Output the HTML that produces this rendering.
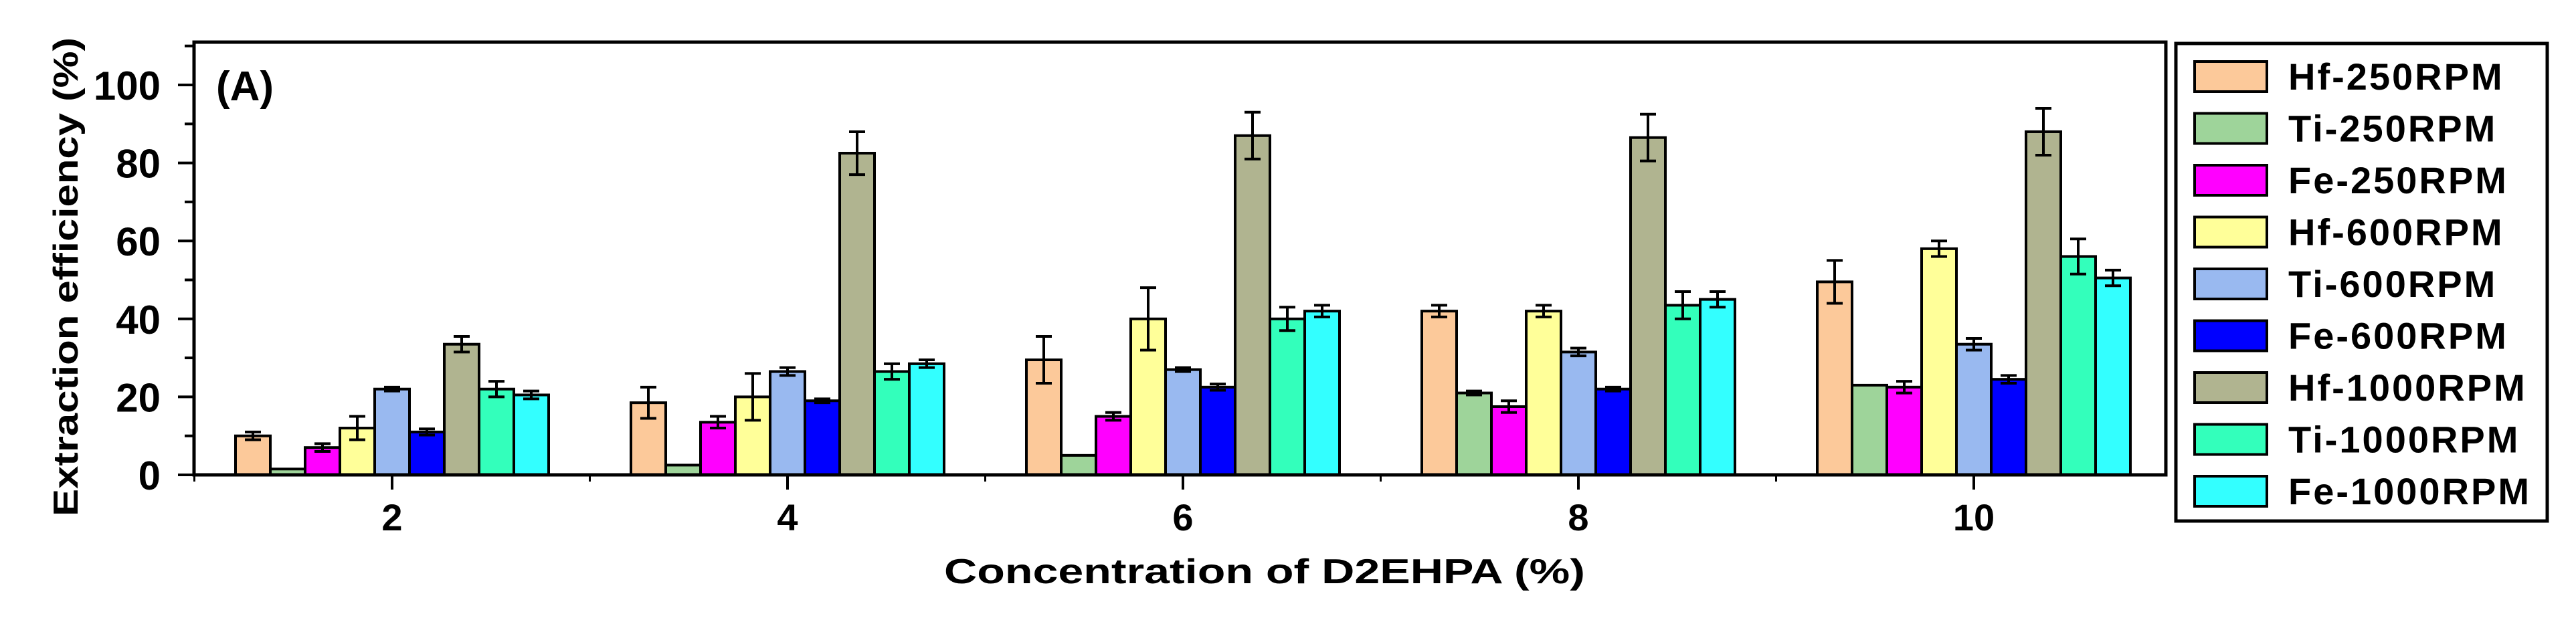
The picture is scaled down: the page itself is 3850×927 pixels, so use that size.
<!DOCTYPE html>
<html><head><meta charset="utf-8"><style>html,body{margin:0;padding:0;background:#fff}svg{display:block}</style></head>
<body>
<svg id="chart" width="3850" height="927" xmlns="http://www.w3.org/2000/svg" font-family="'Liberation Sans', sans-serif">
<g id="plot"></g>
</svg>
<script>
const categories = [2, 4, 6, 8, 10];
const seriesNames = ["Hf-250RPM","Ti-250RPM","Fe-250RPM","Hf-600RPM","Ti-600RPM","Fe-600RPM","Hf-1000RPM","Ti-1000RPM","Fe-1000RPM"];
const hf250 = [10, 18.5, 29.5, 42, 49.5];
const ti250 = [1.5, 2.5, 5, 21, 23];
const fe250 = [7, 13.5, 15, 17.5, 22.5];
const hf600 = [12, 20, 40, 42, 58];
const ti600 = [22, 26.5, 27, 31.5, 33.5];
const fe600 = [11, 19, 22.5, 22, 24.5];
const hf1000 = [33.5, 82.5, 87, 86.5, 88];
const ti1000 = [22, 26.5, 40, 43.5, 56];
const fe1000 = [20.5, 28.5, 42, 45, 50.5];
const errHf250 = [1, 4, 6, 1.5, 5.5];
const errTi250 = [0, 0, 0, 0.5, 0];
const errFe250 = [1, 1.5, 1, 1.5, 1.5];
const errHf600 = [3, 6, 8, 1.5, 2];
const errTi600 = [0.5, 1, 0.5, 1, 1.5];
const errFe600 = [0.8, 0.5, 0.8, 0.5, 1];
const errHf1000 = [2, 5.5, 6, 6, 6];
const errTi1000 = [2, 2, 3, 3.5, 4.5];
const errFe1000 = [1, 1, 1.5, 2, 2];
const yTicks = [0, 20, 40, 60, 80, 100];
const colors = ["#FCC99A","#9ED49A","#FF00FF","#FFFF99","#99B9F0","#0000FF","#B0B490","#33FFBB","#33FFFF"];

const series = [hf250, ti250, fe250, hf600, ti600, fe600, hf1000, ti1000, fe1000];
const errs = [errHf250, errTi250, errFe250, errHf600, errTi600, errFe600, errHf1000, errTi1000, errFe1000];
const NS = "http://www.w3.org/2000/svg";
const L = 290, R = 3237, T = 63, B = 710;
const xs = v => 290.5 + (v - 1) * 295.5;
const ys = v => 710 - v * 5.83;
const barW = 52;
const g = document.getElementById('plot');
function mk(tag, attrs, parent) {
  const e = document.createElementNS(NS, tag);
  for (const k in attrs) e.setAttribute(k, attrs[k]);
  (parent || g).appendChild(e);
  return e;
}
// bars
series.forEach((vals, si) => {
  vals.forEach((v, ci) => {
    const cx = xs(categories[ci]) + (si - 4) * barW;
    const r = mk('rect', {x: cx - barW/2, y: ys(v), width: barW, height: ys(0) - ys(v), fill: colors[si], stroke: '#000', 'stroke-width': 4});
    
    
    const e = errs[si][ci];
    if (e > 0) {
      const eb = mk('path', {d: `M${cx},${ys(v+e)}V${ys(v-e)}M${cx-12},${ys(v+e)}H${cx+12}M${cx-12},${ys(v-e)}H${cx+12}`, stroke: '#000', 'stroke-width': 4, fill: 'none'});
      
      
    }
  });
});
// frame
const fr = mk('rect', {x: L, y: T, width: R - L, height: B - T, fill: 'none', stroke: '#000', 'stroke-width': 5});


// y ticks
for (let v = 0; v <= 110; v += 10) {
  const major = v % 20 === 0;
  const t = mk('line', {x1: major ? L - 24 : L - 14, x2: L, y1: ys(v), y2: ys(v), stroke: '#000', 'stroke-width': 4});
  
  
}
yTicks.forEach(v => {
  const tx = mk('text', {x: 240, y: ys(v) + 22, 'text-anchor': 'end', 'font-size': 60, 'font-weight': 'bold', fill: '#000'});
  
  
  tx.textContent = v;
});
// x ticks
categories.forEach(c => {
  const t = mk('line', {x1: xs(c), x2: xs(c), y1: B, y2: B + 22, stroke: '#000', 'stroke-width': 4});
  
  
  const m = mk('line', {x1: xs(c) - 295.5, x2: xs(c) - 295.5, y1: B, y2: B + 10, stroke: '#000', 'stroke-width': 3});
  
  
  const tx = mk('text', {x: xs(c), y: 793, 'text-anchor': 'middle', 'font-size': 56, 'font-weight': 'bold', fill: '#000'});
  
  
  tx.textContent = c;
});
// titles
const yt = mk('text', {x: 0, y: 0, transform: 'translate(116,414) rotate(-90)', 'text-anchor': 'middle', 'font-size': 52, 'font-weight': 'bold', fill: '#000', textLength: 716, lengthAdjust: 'spacingAndGlyphs'});


yt.textContent = 'Extraction efficiency (%)';
const xt = mk('text', {x: 1890, y: 872, 'text-anchor': 'middle', 'font-size': 52, 'font-weight': 'bold', fill: '#000', textLength: 958, lengthAdjust: 'spacingAndGlyphs'});


xt.textContent = 'Concentration of D2EHPA (%)';
const pl = mk('text', {x: 323, y: 150, 'font-size': 62, 'font-weight': 'bold', fill: '#000'});


pl.textContent = '(A)';
// legend
const lg = mk('g', {});


const lb = mk('rect', {x: 3252, y: 65, width: 555, height: 714, fill: '#fff', stroke: '#000', 'stroke-width': 5}, lg);


seriesNames.forEach((n, i) => {
  const y = 92 + i * 77.5;
  const sw = mk('rect', {x: 3280, y: y, width: 108, height: 45, fill: colors[i], stroke: '#000', 'stroke-width': 4}, lg);
  
  
  const t = mk('text', {x: 3420, y: y + 42, 'font-size': 56, 'font-weight': 'bold', fill: '#000', 'letter-spacing': 3}, lg);
  
  
  t.textContent = n;
});
</script>
</body></html>
